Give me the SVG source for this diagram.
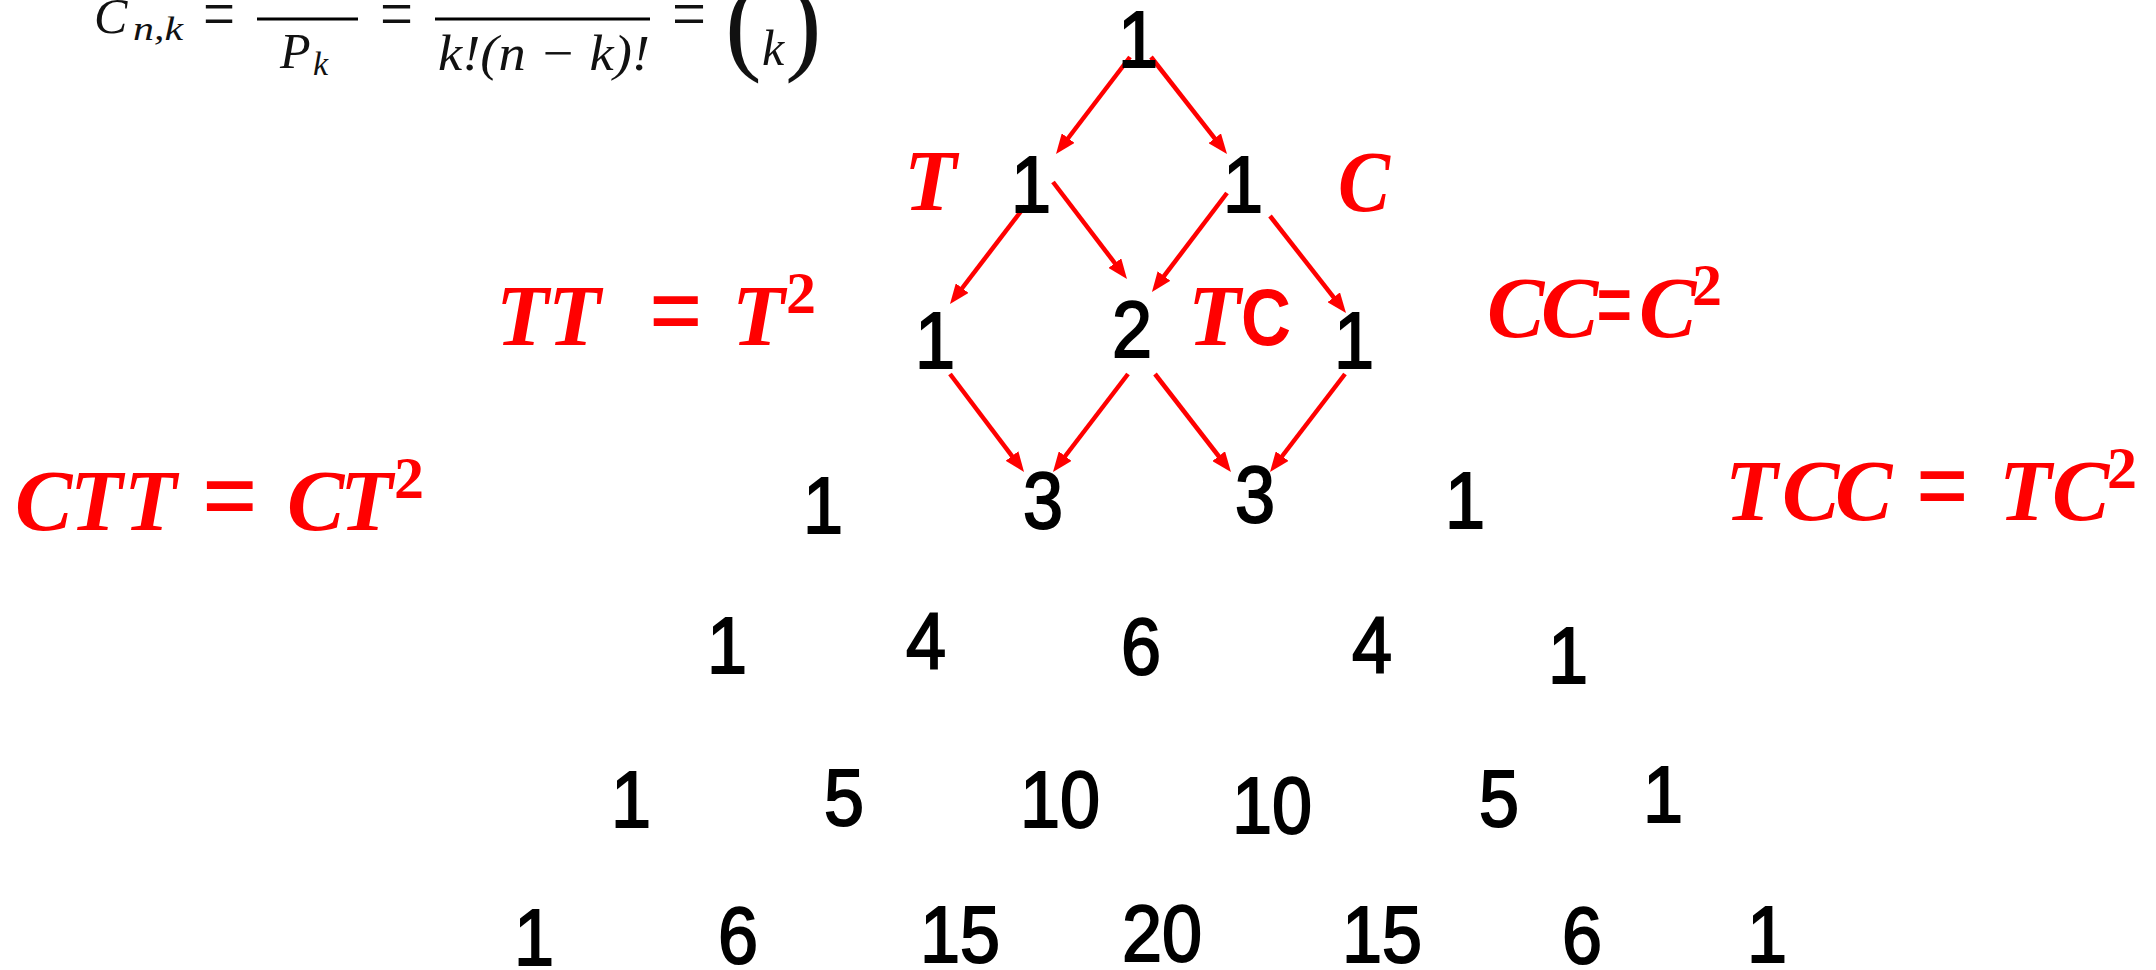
<svg xmlns="http://www.w3.org/2000/svg" width="2156" height="970" viewBox="0 0 2156 970">
<defs>
<style>
.num{font-family:"Liberation Sans",Arial,sans-serif;font-size:80px;fill:#000;text-anchor:middle;stroke:#000;stroke-width:2}
.lab{font-family:"Liberation Serif","Times New Roman",serif;font-size:86px;font-weight:bold;font-style:italic;fill:#ff0000}
.eq{font-family:"Liberation Serif","Times New Roman",serif;font-size:110px;font-weight:bold;fill:#ff0000}
.sup{font-family:"Liberation Serif","Times New Roman",serif;font-size:60px;font-weight:bold;fill:#ff0000}
.fm{font-family:"Liberation Serif","Times New Roman",serif;font-size:50px;fill:#111}
.fi{font-style:italic}
.fsub{font-size:34px}
.feq{font-size:72px}
.fpar{font-size:110px}
.arr{stroke:#ff0000;stroke-width:4.5;fill:none;marker-end:url(#ah)}
</style>
<marker id="ah" viewBox="0 0 20 16" refX="8" refY="8" markerWidth="20" markerHeight="16" markerUnits="userSpaceOnUse" orient="auto">
<path d="M0,0 L20,8 L0,16 z" fill="#ff0000"/>
</marker>
</defs>
<rect width="2156" height="970" fill="#ffffff"/>

<g id="formula">
<text class="fm fi" x="94" y="33">C</text>
<text class="fm fi fsub" x="133" y="40" textLength="50" lengthAdjust="spacingAndGlyphs">n,k</text>
<text class="fm feq" x="203" y="38" textLength="32" lengthAdjust="spacingAndGlyphs">=</text>
<line x1="257" y1="19" x2="358" y2="19" stroke="#000" stroke-width="3"/>
<text class="fm fi" x="280" y="68">P</text>
<text class="fm fi fsub" x="313" y="75">k</text>
<text class="fm feq" x="380" y="38" textLength="33" lengthAdjust="spacingAndGlyphs">=</text>
<line x1="435" y1="19" x2="650" y2="19" stroke="#000" stroke-width="3"/>
<text class="fm fi" x="438" y="70" textLength="212" lengthAdjust="spacingAndGlyphs">k!(n − k)!</text>
<text class="fm feq" x="672" y="38" textLength="34" lengthAdjust="spacingAndGlyphs">=</text>
<text class="fm fpar" x="725" y="60">(</text>
<text class="fm fi" x="762" y="65">k</text>
<text class="fm fpar" x="785" y="60">)</text>
</g>

<g id="connectors">
<line class="arr" x1="1130" y1="57" x2="1063.3" y2="144.5"/>
<line class="arr" x1="1151" y1="57" x2="1219.6" y2="144.6"/>
<line class="arr" x1="1025" y1="206" x2="957.3" y2="294.5"/>
<line class="arr" x1="1053" y1="182" x2="1119.7" y2="269.5"/>
<line class="arr" x1="1227" y1="193" x2="1159.2" y2="282.4"/>
<line class="arr" x1="1270" y1="216" x2="1338.6" y2="303.6"/>
<line class="arr" x1="950" y1="374" x2="1016.8" y2="462.4"/>
<line class="arr" x1="1128" y1="374" x2="1060.3" y2="462.5"/>
<line class="arr" x1="1155" y1="374" x2="1223.6" y2="462.5"/>
<line class="arr" x1="1345" y1="374" x2="1277.3" y2="462.5"/>
</g>

<g id="numbers" transform="scale(0.9 1)">
<g id="r1"><text class="num" x="1264.4" y="67">1</text></g>
<g id="r2"><text class="num" x="1145.6" y="212">1</text><text class="num" x="1381.1" y="212">1</text></g>
<g id="r3"><text class="num" x="1038.9" y="368">1</text><text class="num" x="1257.8" y="357">2</text><text class="num" x="1504.4" y="368">1</text></g>
<g id="r4"><text class="num" x="914.4" y="533">1</text><text class="num" x="1158.9" y="528">3</text><text class="num" x="1394.4" y="522">3</text><text class="num" x="1627.8" y="528">1</text></g>
<g id="r5"><text class="num" x="807.8" y="673">1</text><text class="num" x="1028.9" y="668">4</text><text class="num" x="1267.8" y="674">6</text><text class="num" x="1524.4" y="672">4</text><text class="num" x="1742.2" y="683">1</text></g>
<g id="r6"><text class="num" x="701.1" y="827">1</text><text class="num" x="937.8" y="825">5</text><text class="num" x="1177.8" y="827">10</text><text class="num" x="1413.3" y="833">10</text><text class="num" x="1665.6" y="826">5</text><text class="num" x="1847.8" y="822">1</text></g>
<g id="r7"><text class="num" x="593.3" y="965">1</text><text class="num" x="820" y="963">6</text><text class="num" x="1066.7" y="962">15</text><text class="num" x="1291.1" y="961">20</text><text class="num" x="1535.6" y="962">15</text><text class="num" x="1757.8" y="963">6</text><text class="num" x="1963.3" y="962">1</text></g>
</g>

<g id="label-T"><text class="lab" x="904" y="210">T</text></g>
<g id="label-C"><text class="lab" x="1338" y="211" textLength="52" lengthAdjust="spacingAndGlyphs">C</text></g>

<g id="label-TT">
<text class="lab" y="345"><tspan x="496">T</tspan><tspan x="548">T</tspan></text>
<text class="eq" x="649" y="348" textLength="54" lengthAdjust="spacingAndGlyphs">=</text>
<text class="lab" x="732" y="345">T</text>
<text class="sup" x="786" y="313">2</text>
</g>

<g id="label-TC">
<text class="lab" x="1188" y="345">T</text>
<text x="1241" y="345" font-family="Liberation Sans, Arial, sans-serif" font-size="80" font-weight="bold" fill="#ff0000" textLength="50" lengthAdjust="spacingAndGlyphs">C</text>
</g>

<g id="label-CC">
<text class="lab" y="337"><tspan x="1487">C</tspan><tspan x="1541">C</tspan><tspan x="1639">C</tspan></text>
<text class="eq" x="1596" y="342" textLength="37" lengthAdjust="spacingAndGlyphs">=</text>
<text class="sup" x="1692" y="305">2</text>
</g>

<g id="label-CTT">
<text class="lab" y="530"><tspan x="15">C</tspan><tspan x="70">T</tspan><tspan x="124">T</tspan><tspan x="287">C</tspan><tspan x="340">T</tspan></text>
<text class="eq" x="202" y="533" textLength="56" lengthAdjust="spacingAndGlyphs">=</text>
<text class="sup" x="394" y="498">2</text>
</g>

<g id="label-TCC">
<text class="lab" y="520"><tspan x="1725">T</tspan><tspan x="1782">C</tspan><tspan x="1835">C</tspan><tspan x="1999">T</tspan><tspan x="2052">C</tspan></text>
<text class="eq" x="1916" y="523" textLength="53" lengthAdjust="spacingAndGlyphs">=</text>
<text class="sup" x="2107" y="488">2</text>
</g>
</svg>
